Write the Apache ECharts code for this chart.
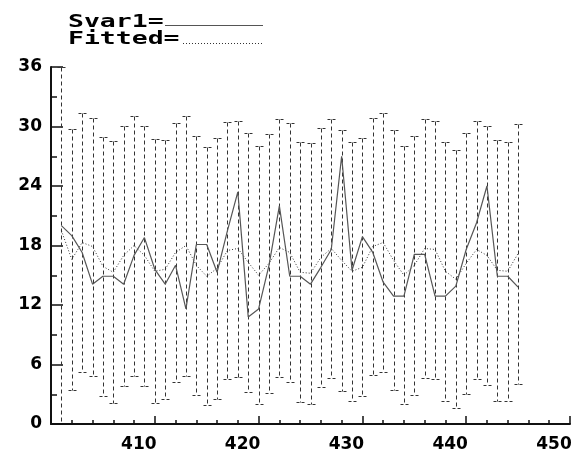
<!DOCTYPE html>
<html>
<head>
<meta charset="utf-8">
<script src="https://cdn.jsdelivr.net/npm/echarts@6/dist/echarts.min.js"></script>
<style>
  html, body { margin: 0; padding: 0; background: #fff; }
  #chart { width: 579px; height: 453px; }
</style>
</head>
<body>
<div id="chart"></div>
<script>
// Observation index
const obs = [401, 402, 403, 404, 405, 406, 407, 408, 409, 410,
             411, 412, 413, 414, 415, 416, 417, 418, 419, 420,
             421, 422, 423, 424, 425, 426, 427, 428, 429, 430,
             431, 432, 433, 434, 435, 436, 437, 438, 439, 440,
             441, 442, 443, 444, 445];

// Observed series
const svar1 = [20.0, 19.0, 17.3, 14.1, 14.9, 14.9, 14.1, 17.0, 18.8, 15.6,
               14.1, 16.0, 11.6, 18.1, 18.1, 15.3, 19.5, 23.4, 10.8, 11.6,
               16.0, 22.0, 14.9, 14.9, 14.1, 15.8, 17.6, 27.0, 15.5, 18.9,
               17.3, 14.3, 12.9, 12.9, 17.1, 17.1, 12.9, 12.9, 13.9, 17.6,
               20.3, 24.0, 14.9, 14.9, 13.8];

// Model fit
const fitted = [19.5, 16.6, 18.3, 17.9, 15.9, 15.3, 17.0, 18.0, 17.0, 15.4,
                15.6, 17.3, 18.0, 16.0, 14.9, 15.7, 17.5, 17.7, 16.3, 15.0,
                16.2, 17.8, 17.3, 15.3, 15.2, 16.8, 17.7, 16.5, 15.4, 15.8,
                17.9, 18.3, 16.5, 15.0, 16.0, 17.7, 17.6, 15.4, 14.6, 16.2,
                17.6, 17.0, 15.5, 15.4, 17.2];

// Interval bounds
const upper = [36.0, 29.7, 31.4, 30.9, 28.9, 28.5, 30.1, 31.1, 30.1, 28.7,
               28.6, 30.4, 31.1, 29.0, 27.9, 28.8, 30.5, 30.6, 29.3, 28.0,
               29.2, 30.8, 30.4, 28.4, 28.3, 29.8, 30.8, 29.6, 28.4, 28.8,
               30.9, 31.4, 29.6, 28.0, 29.0, 30.8, 30.6, 28.4, 27.6, 29.3,
               30.6, 30.1, 28.6, 28.4, 30.3];
const lower = [0.0, 3.4, 5.2, 4.8, 2.8, 2.1, 3.8, 4.8, 3.8, 2.1,
               2.5, 4.2, 4.8, 2.9, 1.9, 2.5, 4.5, 4.7, 3.2, 2.0,
               3.1, 4.7, 4.2, 2.2, 2.0, 3.7, 4.6, 3.3, 2.3, 2.8,
               4.9, 5.2, 3.4, 2.0, 2.9, 4.6, 4.5, 2.3, 1.6, 3.0,
               4.5, 3.9, 2.3, 2.3, 4.0];

// Axis ticks
const xTicks = [410, 420, 430, 440, 450];
const yTicks = [0, 6, 12, 18, 24, 30, 36];

const INK = '#111';
const LABEL_FONT = 'DejaVu Sans';

const chart = echarts.init(document.getElementById('chart'), null, { renderer: 'canvas' });

const crisp = v => Math.round(v) + 0.5;

const option = {
  animation: false,
  backgroundColor: '#fff',
  grid: { left: 51, right: 9, top: 67, bottom: 28, containLabel: false },
  xAxis: {
    type: 'value',
    min: 400,
    max: 450,
    interval: 10,
    axisLine: { show: true, onZero: false, lineStyle: { color: INK, width: 2 } },
    axisTick: { show: true, inside: true, length: 8, lineStyle: { color: INK, width: 1.5 } },
    minorTick: { show: true, splitNumber: 5, length: 4, lineStyle: { color: INK, width: 1.5 } },
    splitLine: { show: false },
    axisLabel: {
      margin: 12,
      color: '#000',
      fontFamily: LABEL_FONT,
      fontWeight: 'bold',
      fontSize: 17,
      padding: [0, 32, 0, 0],
      formatter: v => (xTicks.indexOf(v) >= 0 ? String(v) : '')
    }
  },
  yAxis: {
    type: 'value',
    min: 0,
    max: 36,
    interval: 6,
    axisLine: { show: true, onZero: false, lineStyle: { color: INK, width: 2 } },
    axisTick: { show: true, inside: true, length: 12, lineStyle: { color: INK, width: 1.5 } },
    minorTick: { show: true, splitNumber: 2, length: 6, lineStyle: { color: INK, width: 1.5 } },
    splitLine: { show: false },
    axisLabel: {
      margin: 9,
      color: '#000',
      fontFamily: LABEL_FONT,
      fontWeight: 'bold',
      fontSize: 17,
      formatter: v => (yTicks.indexOf(v) >= 0 ? String(v) : '')
    }
  },
  graphic: [
    {
      type: 'text', x: 68, y: 13, scaleX: 1.47,
      style: { text: 'Svar1=', font: 'bold 18px "DejaVu Sans Mono"', fill: '#000', textVerticalAlign: 'top' }
    },
    {
      type: 'line', shape: { x1: 165, y1: 25.5, x2: 263, y2: 25.5 },
      style: { stroke: '#555', lineWidth: 1 }
    },
    {
      type: 'text', x: 68, y: 30, scaleX: 1.47,
      style: { text: 'Fitted=', font: 'bold 18px "DejaVu Sans Mono"', fill: '#000', textVerticalAlign: 'top' }
    },
    {
      type: 'line', shape: { x1: 183, y1: 43.5, x2: 263, y2: 43.5 },
      style: { stroke: '#333', lineWidth: 1, lineDash: [1, 2] }
    }
  ],
  series: [
    {
      name: 'Interval',
      type: 'custom',
      clip: true,
      data: obs.map((x, i) => [x, lower[i], upper[i]]),
      renderItem: (params, api) => {
        const x = api.value(0);
        const top = api.coord([x, api.value(2)]);
        const bot = api.coord([x, api.value(1)]);
        const cx = crisp(top[0]);
        const ty = crisp(top[1]);
        const by = crisp(bot[1]);
        const cap = 4;
        const stroke = { stroke: '#333', lineWidth: 1 };
        return {
          type: 'group',
          children: [
            { type: 'line', shape: { x1: cx, y1: ty, x2: cx, y2: by },
              style: Object.assign({ lineDash: [4, 3] }, stroke) },
            { type: 'line', shape: { x1: cx - cap, y1: ty, x2: cx + cap, y2: ty },
              style: Object.assign({ lineDash: [3, 2] }, stroke) },
            { type: 'line', shape: { x1: cx - cap, y1: by, x2: cx + cap, y2: by },
              style: Object.assign({ lineDash: [3, 2] }, stroke) }
          ]
        };
      },
      z: 1
    },
    {
      name: 'Fitted',
      type: 'line',
      data: obs.map((x, i) => [x, fitted[i]]),
      symbol: 'none',
      lineStyle: { color: '#333', width: 1, type: [1, 2] },
      z: 2
    },
    {
      name: 'Svar1',
      type: 'line',
      data: obs.map((x, i) => [x, svar1[i]]),
      symbol: 'none',
      lineStyle: { color: '#555', width: 1.2 },
      z: 3
    }
  ]
};

chart.setOption(option);
</script>
</body>
</html>
